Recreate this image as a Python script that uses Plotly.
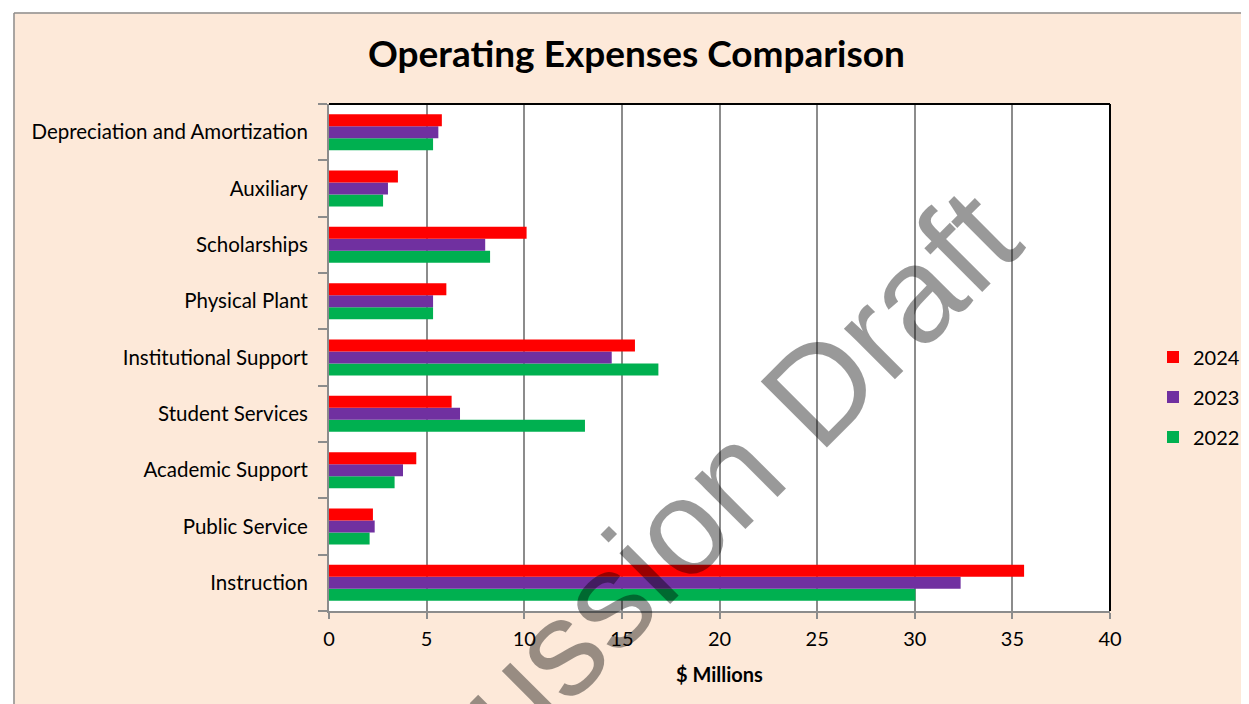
import plotly.graph_objects as go

categories = ["Instruction", "Public Service", "Academic Support", "Student Services",
              "Institutional Support", "Physical Plant", "Scholarships", "Auxiliary",
              "Depreciation and Amortization"]
v2022 = [30.03, 2.08, 3.36, 13.11, 16.87, 5.33, 8.25, 2.77, 5.33]
v2023 = [32.35, 2.34, 3.79, 6.71, 14.48, 5.33, 8.00, 3.02, 5.60]
v2024 = [35.60, 2.25, 4.47, 6.28, 15.67, 6.01, 10.12, 3.53, 5.78]
x_ticks = [0, 5, 10, 15, 20, 25, 30, 35, 40]

# The page body keeps its default 8px margin, so the figure is placed 8px in.
OFF = 8
W, H = 1249 - OFF, 704 - OFF
L, R, T, B = 329 - OFF, 1110 - OFF, 104 - OFF, 611 - OFF
PW, PH = R - L, B - T

def px(x):
    return (x - OFF - L) / PW

def py(y):
    return (B - (y - OFF)) / PH

FONT = "Lato, Carlito, Calibri, sans-serif"
PEACH = "#FDE9D9"

fig = go.Figure()
for name, vals, col, rank in [("2022", v2022, "#00B050", 3), ("2023", v2023, "#7030A0", 2),
                              ("2024", v2024, "#FF0000", 1)]:
    fig.add_trace(go.Bar(y=categories, x=vals, name=name, orientation="h",
                         marker=dict(color=col, line=dict(width=0)), legendgroup=name,
                         legendrank=rank))

fig.update_layout(
    width=W, height=H, autosize=False,
    margin=dict(l=L, r=W - R, t=T, b=H - B, pad=0, autoexpand=False),
    paper_bgcolor=PEACH, plot_bgcolor="white",
    barmode="group", bargap=0.36, bargroupgap=0,
    font=dict(family=FONT, size=20, color="#000000"),
    showlegend=True,
    legend=dict(x=px(1153), xanchor="left", y=py(397), yanchor="middle",
                traceorder="grouped", tracegroupgap=11,
                bgcolor="rgba(0,0,0,0)", font=dict(size=20, family=FONT)),
    xaxis=dict(range=[0, 40], tickvals=x_ticks, showgrid=True, gridcolor="#8C8C8C", gridwidth=1.5,
               zeroline=False, showline=True, linecolor="#8C8C8C", linewidth=2,
               ticks="outside", ticklen=6, tickwidth=1.5, tickcolor="#8C8C8C",
               tickfont=dict(size=20, family=FONT), ticklabelstandoff=3, fixedrange=True),
    yaxis=dict(categoryorder="array", categoryarray=categories, showgrid=False,
               showline=True, linecolor="#8C8C8C", linewidth=2,
               ticks="outside", tickson="boundaries", ticklen=9, tickwidth=1.5, tickcolor="#8C8C8C",
               tickfont=dict(size=20.5, family=FONT), ticklabelstandoff=15, fixedrange=True),
)

shapes = [
    dict(type="rect", xref="paper", yref="paper", x0=px(OFF), x1=px(13.5), y0=py(1249), y1=py(OFF),
         fillcolor="white", line=dict(width=0), layer="above"),
    dict(type="rect", xref="paper", yref="paper", x0=px(OFF), x1=px(1249), y0=py(12.5), y1=py(OFF),
         fillcolor="white", line=dict(width=0), layer="above"),
    dict(type="line", xref="paper", yref="paper", x0=px(14), x1=px(14), y0=py(13), y1=py(704),
         line=dict(color="#8C8C8C", width=1.5), layer="above"),
    dict(type="line", xref="paper", yref="paper", x0=px(14), x1=px(1249), y0=py(13), y1=py(13),
         line=dict(color="#8C8C8C", width=1.5), layer="above"),
    dict(type="line", xref="paper", yref="paper", x0=0, x1=1, y0=1, y1=1,
         line=dict(color="black", width=2), layer="above"),
    dict(type="line", xref="paper", yref="paper", x0=1, x1=1, y0=0, y1=1,
         line=dict(color="black", width=2), layer="above"),
]
fig.update_layout(shapes=shapes)

fig.add_annotation(text="<b>Operating Expenses Comparison</b>", xref="paper", yref="paper",
                   x=px(636.5), y=py(53), xanchor="center", yanchor="middle", showarrow=False,
                   font=dict(size=37, family=FONT, color="black"))
fig.add_annotation(text="<b>$ Millions</b>", xref="paper", yref="paper",
                   x=px(719.5), y=py(674), xanchor="center", yanchor="middle", showarrow=False,
                   font=dict(size=20, family=FONT, color="black"))
fig.add_annotation(text="Discussion Draft", xref="paper", yref="paper",
                   x=px(644), y=py(564), xanchor="center", yanchor="middle", showarrow=False,
                   textangle=-45,
                   font=dict(size=136, family="Liberation Sans, Arial, sans-serif", color="rgba(0,0,0,0.4)"))

fig.write_html("out.html", config={"displayModeBar": False})
